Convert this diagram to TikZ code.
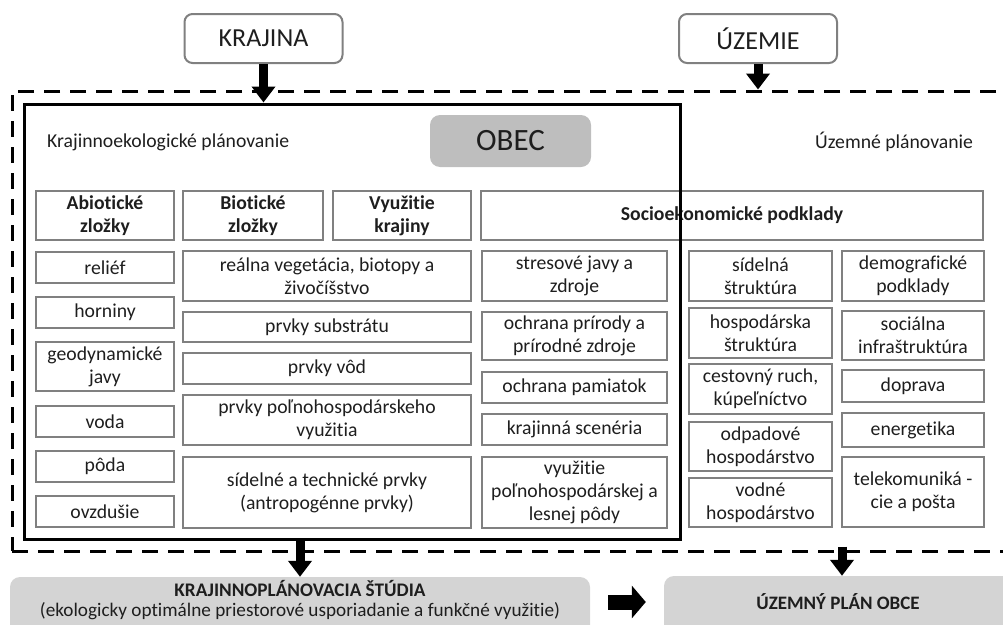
\documentclass[tikz,border=0pt]{standalone}
\usepackage{fontspec}
\setmainfont{Carlito}[Ligatures={NoCommon}]
\usetikzlibrary{arrows.meta}
\definecolor{bordergray}{RGB}{128,128,128}
\definecolor{obecgray}{RGB}{190,190,190}
\definecolor{lightgray2}{RGB}{212,212,212}
\definecolor{txt}{RGB}{30,30,30}
\begin{document}
\begin{tikzpicture}[x=1pt,y=-1pt,
  bx/.style={draw=bordergray, line width=1.5pt, inner sep=0pt, align=center, text=txt,
    font=\fontsize{19.7}{23}\selectfont},
  hd/.style={bx, font=\fontsize{19.7}{23}\selectfont\bfseries},
  topbox/.style={draw=bordergray, line width=2pt, rounded corners=8pt, inner sep=0pt,
    minimum width=158pt, minimum height=49pt, font=\fontsize{26}{30}\selectfont, text=txt},
  graybox/.style={fill=lightgray2, rounded corners=10pt, inner sep=0pt},
  plain/.style={inner sep=0pt, text=txt, font=\fontsize{19.7}{23}\selectfont},
  bigarrow/.style={line width=9pt, -{Triangle[width=23pt,length=16pt]}},
  widearrow/.style={line width=15pt, -{Triangle[width=32pt,length=14pt]}}
]
\path[use as bounding box, clip] (0,0) rectangle (1003,624);

% frames
\node[draw=black, line width=3pt, dash pattern=on 16pt off 10pt, inner sep=0pt,
  minimum width=1003pt, minimum height=460pt] (outer) at (513.5,321) {};

% top boxes
\node[topbox] (kraj) at (263.5,38.5) {KRAJINA};
\node[topbox] (uzem) at (758,38.5) {ÚZEMIE};

% headings
\node[plain, anchor=west] (kep) at (47,142) {Krajinnoekologické plánovanie};
\node[plain, anchor=west] (up) at (815,142) {Územné plánovanie};
\node[fill=obecgray, rounded corners=10pt, inner sep=0pt, minimum width=161pt, minimum height=52pt,
  text=txt, font=\fontsize{31}{34}\selectfont] (obec) at (510.5,141) {OBEC};

% header row
\node[hd, minimum width=138pt, minimum height=49pt] (h1) at (105,215.5) {Abiotické\\zložky};
\node[hd, minimum width=140pt, minimum height=49pt] (h2) at (253,215.5) {Biotické\\zložky};
\node[hd, minimum width=138pt, minimum height=49pt] (h3) at (402,215.5) {Využitie\\krajiny};
\node[hd, minimum width=502pt, minimum height=49pt] (h4) at (732,215.5) {Socioekonomické podklady};

% column 1
\node[bx, minimum width=138pt, minimum height=31pt] (c1a) at (105,267.5) {reliéf};
\node[bx, minimum width=138pt, minimum height=31pt] (c1b) at (105,312.5) {horniny};
\node[bx, minimum width=138pt, minimum height=49pt] (c1c) at (105,366.5) {geodynamické\\javy};
\node[bx, minimum width=138pt, minimum height=31pt] (c1d) at (105,421.5) {voda};
\node[bx, minimum width=138pt, minimum height=31pt] (c1e) at (105,466.5) {pôda};
\node[bx, minimum width=138pt, minimum height=31pt] (c1f) at (105,511.5) {ovzdušie};

% column 2
\node[bx, minimum width=288pt, minimum height=50pt] (c2a) at (327,276) {reálna vegetácia, biotopy a\\živočíšstvo};
\node[bx, minimum width=288pt, minimum height=30pt] (c2b) at (327,327) {prvky substrátu};
\node[bx, minimum width=288pt, minimum height=31pt] (c2c) at (327,368.5) {prvky vôd};
\node[bx, minimum width=288pt, minimum height=50pt] (c2d) at (327,420) {prvky poľnohospodárskeho\\využitia};
\node[bx, minimum width=288pt, minimum height=71pt] (c2e) at (327,492.5) {sídelné a technické prvky\\(antropogénne prvky)};

% column 3
\node[bx, minimum width=185pt, minimum height=50pt] (c3a) at (574.5,276) {stresové javy a\\zdroje};
\node[bx, minimum width=185pt, minimum height=48pt] (c3b) at (574.5,336) {ochrana prírody a\\prírodné zdroje};
\node[bx, minimum width=185pt, minimum height=31pt] (c3c) at (574.5,387.5) {ochrana pamiatok};
\node[bx, minimum width=185pt, minimum height=31pt] (c3d) at (574.5,429.5) {krajinná scenéria};
\node[bx, minimum width=185pt, minimum height=71pt] (c3e) at (574.5,492.5) {využitie\\poľnohospodárskej a\\lesnej pôdy};

% column 4
\node[bx, minimum width=143pt, minimum height=50pt] (c4a) at (760.5,276) {sídelná\\štruktúra};
\node[bx, minimum width=143pt, minimum height=50pt] (c4b) at (760.5,333) {hospodárska\\štruktúra};
\node[bx, minimum width=143pt, minimum height=50pt] (c4c) at (760.5,389) {cestovný ruch,\\kúpeľníctvo};
\node[bx, minimum width=143pt, minimum height=49pt] (c4d) at (760.5,446.5) {odpadové\\hospodárstvo};
\node[bx, minimum width=143pt, minimum height=49pt] (c4e) at (760.5,502.5) {vodné\\hospodárstvo};

% column 5
\node[bx, minimum width=142pt, minimum height=50pt] (c5a) at (913,276) {demografické\\podklady};
\node[bx, minimum width=142pt, minimum height=49pt] (c5b) at (913,335.5) {sociálna\\infraštruktúra};
\node[bx, minimum width=142pt, minimum height=32pt] (c5c) at (913,386) {doprava};
\node[bx, minimum width=142pt, minimum height=34pt] (c5d) at (913,430) {energetika};
\node[bx, minimum width=142pt, minimum height=70pt] (c5e) at (913,492) {telekomuniká -\\cie a pošta};

% inner solid frame (drawn over the socioeconomic header)
\node[draw=black, line width=3pt, inner sep=0pt, minimum width=656pt, minimum height=435pt] (inner) at (352,321.5) {};

% bottom boxes
\node[graybox, minimum width=580pt, minimum height=63pt] (study) at (300,608.5) {};
\node[plain, align=center, font=\fontsize{19.2}{20}\selectfont] (studytxt) at (300,600)
  {\textbf{KRAJINNOPLÁNOVACIA ŠTÚDIA}\\(ekologicky optimálne priestorové usporiadanie a funkčné využitie)};
\node[graybox, minimum width=356pt, minimum height=64pt] (plan) at (842,608) {};
\node[plain, font=\fontsize{19}{22}\selectfont\bfseries] (plantxt) at (838,602) {ÚZEMNÝ PLÁN OBCE};

% arrows
\draw[bigarrow] (kraj.south) -- (kraj.south |- inner.north);
\draw[bigarrow] (uzem.south) -- (uzem.south |- outer.north);
\draw[bigarrow] (study.north |- inner.south) -- (study.north);
\draw[bigarrow, shorten <=-6pt] (plan.north |- outer.south) -- (plan.north);
\draw[widearrow, shorten <=18pt, shorten >=18pt] ([yshift=6.5pt]study.east) -- ([yshift=6pt]plan.west);
\end{tikzpicture}
\end{document}
